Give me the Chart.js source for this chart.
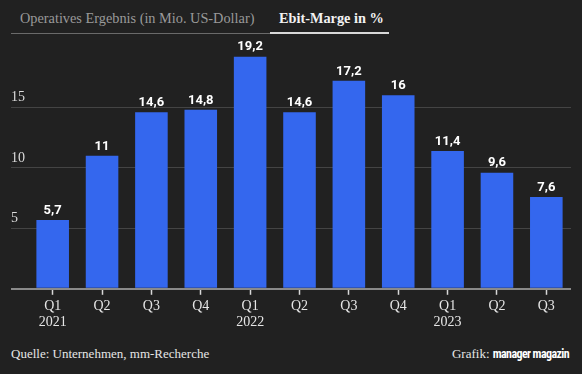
<!DOCTYPE html>
<html>
<head>
<meta charset="utf-8">
<script src="https://cdn.jsdelivr.net/npm/chart.js@4"></script>
<style>
  html, body { margin: 0; padding: 0; background: #212121; }
  body { width: 582px; height: 374px; position: relative; overflow: hidden; font-family: "Liberation Serif", serif; }
  .tabs { position: absolute; left: 11px; top: 0; width: 380px; height: 34px; }
  .tabs .line { position: absolute; left: 0; top: 33px; width: 260px; height: 1px; background: #6a6a6a; }
  .tab { position: absolute; top: 10px; font-size: 14.3px; white-space: nowrap; }
  .tab.off { left: 9px; color: #9a9a9a; }
  .tab.on { left: 268px; color: #f2f2f2; font-weight: bold; }
  .tabs .under { position: absolute; left: 259px; top: 32px; width: 119px; height: 2px; background: #d8d8d8; }
  #wrap { position: absolute; left: 0; top: 36px; width: 582px; height: 304px; }
  .foot { position: absolute; top: 346px; font-size: 13px; color: #e6e6e6; white-space: nowrap; }
  .foot.l { left: 11px; }
  .foot.r { right: 13px; }
  .foot b { font-family: "Liberation Sans Narrow", "Roboto Condensed", "Liberation Sans", sans-serif; font-size: 12px; font-weight: bold; color: #fff; letter-spacing: -0.6px; }
</style>
</head>
<body>
<div class="tabs">
  <div class="line"></div>
  <div class="tab off">Operatives Ergebnis (in Mio. US-Dollar)</div>
  <div class="tab on">Ebit-Marge in %</div>
  <div class="under"></div>
</div>
<div id="wrap"><canvas id="c"></canvas></div>
<div class="foot l">Quelle: Unternehmen, mm-Recherche</div>
<div class="foot r">Grafik: <b>manager magazin</b></div>
<script>
// Ebit-Marge je Quartal
const quarters = ['Q1', 'Q2', 'Q3', 'Q4', 'Q1', 'Q2', 'Q3', 'Q4', 'Q1', 'Q2', 'Q3'];
const years = ['2021', '', '', '', '2022', '', '', '', '2023', '', ''];
const ebitMargin = [5.7, 11, 14.6, 14.8, 19.2, 14.6, 17.2, 16, 11.4, 9.6, 7.6];
const yTicks = [5, 10, 15];

const labels = quarters.map((q, i) => [q, years[i]]);

// draws the value above each bar
const valueLabels = {
  id: 'valueLabels',
  afterDatasetsDraw(chart) {
    const ctx = chart.ctx;
    const meta = chart.getDatasetMeta(0);
    ctx.save();
    ctx.fillStyle = '#ffffff';
    ctx.font = 'bold 13px Roboto, sans-serif';
    ctx.textAlign = 'center';
    ctx.textBaseline = 'bottom';
    meta.data.forEach((bar, i) => {
      ctx.fillText(String(ebitMargin[i]).replace('.', ','), bar.x, bar.y - 3);
    });
    ctx.restore();
  }
};

const isZero = c => c.tick && c.tick.value === 0;

new Chart(document.getElementById('c'), {
  type: 'bar',
  data: {
    labels: labels,
    datasets: [{
      data: ebitMargin,
      backgroundColor: '#3467ee',
      categoryPercentage: 1,
      barPercentage: 0.66
    }]
  },
  options: {
    responsive: true,
    maintainAspectRatio: false,
    animation: false,
    layout: { padding: { left: 11, right: 11, top: 11, bottom: 7 } },
    plugins: { legend: { display: false }, tooltip: { enabled: false } },
    scales: {
      x: {
        border: { display: false },
        grid: {
          display: true,
          offset: false,
          drawOnChartArea: false,
          drawTicks: true,
          tickLength: 6,
          tickWidth: 1.5,
          color: '#d8d8d8',
          tickColor: '#d8d8d8'
        },
        ticks: {
          color: '#e6e6e6',
          padding: 3,
          font: { family: 'Liberation Serif', size: 14, lineHeight: 1.15 },
          maxRotation: 0,
          autoSkip: false
        }
      },
      y: {
        min: 0,
        max: 20,
        border: { display: false },
        afterBuildTicks(axis) {
          axis.ticks = [0].concat(yTicks).map(v => ({ value: v }));
        },
        afterFit(axis) {
          axis.width = 17;
        },
        grid: {
          drawTicks: true,
          tickLength: 17,
          color: c => isZero(c) ? '#8a8a8a' : '#444444',
          tickColor: c => isZero(c) ? '#8a8a8a' : '#444444',
          lineWidth: c => isZero(c) ? 2 : 1,
          tickWidth: c => isZero(c) ? 2 : 1
        },
        ticks: {
          crossAlign: 'far',
          padding: 0,
          labelOffset: -10,
          color: '#dcdcdc',
          font: { family: 'Liberation Serif', size: 14 },
          callback: v => v === 0 ? '' : String(v)
        }
      }
    }
  },
  plugins: [valueLabels]
});
</script>
</body>
</html>
